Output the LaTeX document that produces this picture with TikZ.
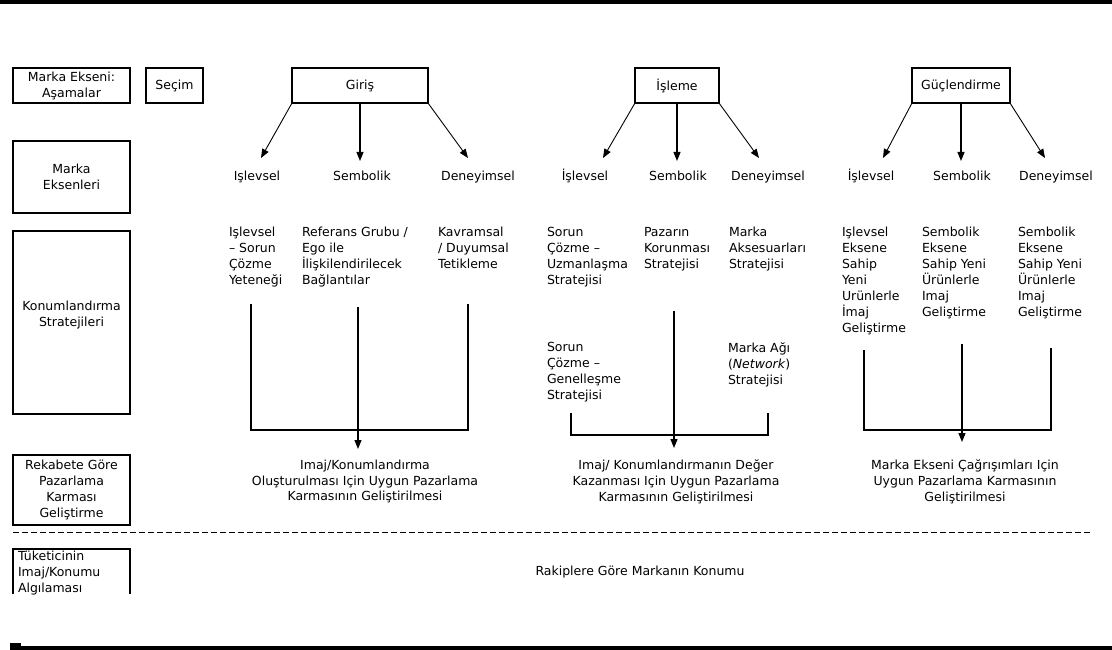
\documentclass[tikz,border=0pt]{standalone}
\usepackage{fontspec}
\setmainfont{DejaVu Sans}
\usetikzlibrary{arrows.meta}
\begin{document}
\begin{tikzpicture}[x=1pt,y=-1pt,
  every node/.style={inner sep=0pt, outer sep=0pt},
  txt/.style={font=\fontsize{12.5}{16}\selectfont},
  box/.style={draw, line width=1.3pt, txt, align=center},
  lt/.style={txt, align=left, anchor=north west},
  ct/.style={txt, align=center, anchor=north},
  axis/.style={txt, text height=9pt, anchor=north},
  link/.style={line width=1.2pt},
  arr/.style={line width=1.2pt, -{Triangle[length=9pt,width=7pt]}},
  diag/.style={line width=0.9pt, -{Triangle[length=9pt,width=7pt]}}
]
\useasboundingbox (0,0) rectangle (1112,650);

% page rules
\fill (0,0) rectangle (1112,4.5);
\fill (10,646) rectangle (1112,650);
\fill (10,643) rectangle (21,646);

% left column headings
\node[box, minimum width=117pt, minimum height=35pt] (stage) at (71.5,85.5) {Marka Ekseni:\\Aşamalar};
\node[box, minimum width=57pt, minimum height=35pt] (secim) at (174.5,85.5) {Seçim};
\node[box, minimum width=117pt, minimum height=72pt] (eksen) at (71.5,177) {Marka\\Eksenleri};
\node[box, minimum width=117pt, minimum height=183pt] (konum) at (71.5,322.5) {};
\node[ct] (konumt) at (71.5,301.5) {Konumlandırma\\Stratejileri};
\node[box, minimum width=117pt, minimum height=70pt] (rekabet) at (71.5,490) {Rekabete Göre\\Pazarlama\\Karması\\Geliştirme};
\draw[line width=1.3pt] (13,594) -- (13,549) -- (130,549) -- (130,594);
\node[lt] (tuket) at (18,551) {Tüketicinin\\Imaj/Konumu\\Algılaması};

% stage boxes
\node[box, minimum width=136pt, minimum height=35pt] (giris) at (360,85.5) {Giriş};
\node[box, minimum width=84pt, minimum height=35pt] (isleme) at (677,85.5) {İşleme};
\node[box, minimum width=98pt, minimum height=35pt] (guc) at (961,85.5) {Güçlendirme};

% brand axes
\node[axis] (g1f) at (257,171.5) {Işlevsel};
\node[axis] (g1s) at (362,171.5) {Sembolik};
\node[axis] (g1d) at (478,171.5) {Deneyimsel};
\node[axis] (g2f) at (585,171.5) {İşlevsel};
\node[axis] (g2s) at (678,171.5) {Sembolik};
\node[axis] (g2d) at (768,171.5) {Deneyimsel};
\node[axis] (g3f) at (871,171.5) {İşlevsel};
\node[axis] (g3s) at (962,171.5) {Sembolik};
\node[axis] (g3d) at (1056,171.5) {Deneyimsel};

\coordinate (g1fa) at (261,158);
\coordinate (g1sa) at (360,161);
\coordinate (g1da) at (468,158);
\coordinate (g2fa) at (603,158);
\coordinate (g2sa) at (677,161);
\coordinate (g2da) at (759,158);
\coordinate (g3fa) at (883,158);
\coordinate (g3sa) at (961,161);
\coordinate (g3da) at (1045,158);

\draw[diag] (giris.south west) -- (g1fa);
\draw[arr] (giris.south) -- (g1sa);
\draw[diag] (giris.south east) -- (g1da);
\draw[diag] (isleme.south west) -- (g2fa);
\draw[arr] (isleme.south) -- (g2sa);
\draw[diag] (isleme.south east) -- (g2da);
\draw[diag] (guc.south west) -- (g3fa);
\draw[arr] (guc.south) -- (g3sa);
\draw[diag] (guc.south east) -- (g3da);

% positioning strategies
\node[lt] (s11) at (229,227.5) {Işlevsel\\– Sorun\\Çözme\\Yeteneği};
\node[lt] (s12) at (302,227.5) {Referans Grubu /\\Ego ile\\İlişkilendirilecek\\Bağlantılar};
\node[lt] (s13) at (438,227.5) {Kavramsal\\/ Duyumsal\\Tetikleme};
\node[lt] (s21) at (547,227.5) {Sorun\\Çözme –\\Uzmanlaşma\\Stratejisi};
\node[lt] (s22) at (644,227.5) {Pazarın\\Korunması\\Stratejisi};
\node[lt] (s23) at (729,227.5) {Marka\\Aksesuarları\\Stratejisi};
\node[lt] (s24) at (547,342.5) {Sorun\\Çözme –\\Genelleşme\\Stratejisi};
\node[lt] (s25) at (728,342.5) {Marka Ağı\\(\textit{Network})\\Stratejisi};
\node[lt] (s31) at (842,227.5) {Işlevsel\\Eksene\\Sahip\\Yeni\\Urünlerle\\İmaj\\Geliştirme};
\node[lt] (s32) at (922,227.5) {Sembolik\\Eksene\\Sahip Yeni\\Ürünlerle\\Imaj\\Geliştirme};
\node[lt] (s33) at (1018,227.5) {Sembolik\\Eksene\\Sahip Yeni\\Ürünlerle\\Imaj\\Geliştirme};

% marketing mix outcomes
\node[ct] (out1) at (365,459.5) {Imaj/Konumlandırma\\Oluşturulması Için Uygun Pazarlama\\Karmasının Geliştirilmesi};
\node[ct] (out2) at (676,459.5) {Imaj/ Konumlandırmanın Değer\\Kazanması Için Uygun Pazarlama\\Karmasının Geliştirilmesi};
\node[ct] (out3) at (965,459.5) {Marka Ekseni Çağrışımları Için\\Uygun Pazarlama Karmasının\\Geliştirilmesi};

% brackets collecting the strategies
\coordinate (b1a) at (251,304); \coordinate (b1b) at (251,430);
\coordinate (b1c) at (468,430); \coordinate (b1d) at (468,304);
\coordinate (m1) at (358,307);  \coordinate (t1) at (358,449);
\draw[link] (b1a) -- (b1b) -- (b1c) -- (b1d);
\draw[arr] (m1) -- (t1);

\coordinate (b2a) at (571,413); \coordinate (b2b) at (571,435);
\coordinate (b2c) at (768,435); \coordinate (b2d) at (768,413);
\coordinate (m2) at (674,311);  \coordinate (t2) at (674,448);
\draw[link] (b2a) -- (b2b) -- (b2c) -- (b2d);
\draw[arr] (m2) -- (t2);

\coordinate (b3a) at (864,350); \coordinate (b3b) at (864,430);
\coordinate (b3c) at (1051,430); \coordinate (b3d) at (1051,348);
\coordinate (m3) at (962,344);  \coordinate (t3) at (962,442);
\draw[link] (b3a) -- (b3b) -- (b3c) -- (b3d);
\draw[arr] (m3) -- (t3);

% competitive position line
\draw[line width=1pt, dash pattern=on 6pt off 3pt] (13,532) -- (1092,532);
\node[axis] (rakip) at (640,566.5) {Rakiplere Göre Markanın Konumu};
\end{tikzpicture}
\end{document}
